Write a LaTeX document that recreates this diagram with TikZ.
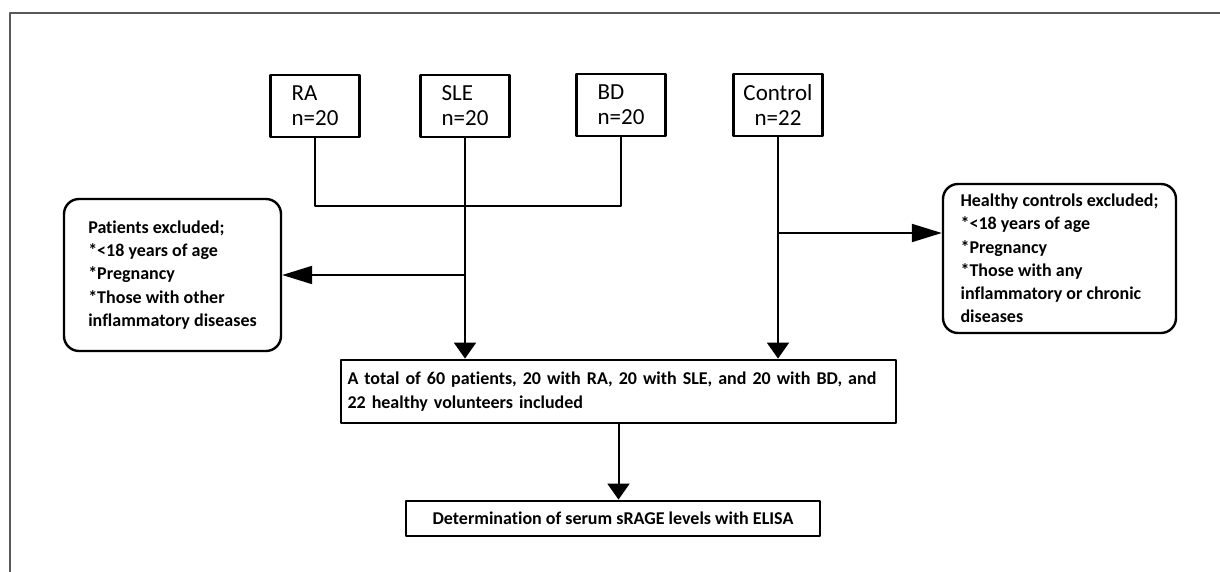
\documentclass[tikz,border=0pt]{standalone}
\usepackage{fontspec}
\setmainfont{Carlito}[Ligatures=NoCommon]
\usetikzlibrary{arrows.meta}
\tikzset{
  grpbox/.style={draw, line width=1.4pt, minimum width=44.5pt, minimum height=31pt, inner sep=0pt, font=\fontsize{11.5}{12.5}\selectfont},
  exclbox/.style={draw, line width=1.2pt, rounded corners=7.5pt, align=left, inner sep=0pt, font=\fontsize{9}{11.6}\selectfont\bfseries},
  mainbox/.style={draw, line width=1.4pt, align=left, inner sep=0pt, font=\fontsize{9}{11.6}\selectfont\bfseries},
  link/.style={line width=1pt},
  harrow/.style={line width=1pt, -{Triangle[length=15pt,width=9pt]}},
  varrow/.style={line width=1pt, -{Triangle[length=8pt,width=11pt]}},
}
\begin{document}
\begin{tikzpicture}[x=0.5pt, y=-0.5pt, line join=round]
	\useasboundingbox (0,0) rectangle (1220,572);
	\draw[gray!70!black, line width=1pt] (10,572) -- (10,13) -- (1220,13);
	% groups
	\node[grpbox, align=left] (ra) at (315,106) {RA\\n=20};
	\node[grpbox, align=left] (sle) at (465,106) {SLE\\n=20};
	\node[grpbox, align=left] (bd) at (621,105) {BD\\n=20};
	\node[grpbox, align=center] (ctrl) at (778,105) {Control\\n=22};
	% exclusions
	\node[exclbox, minimum width=108.5pt, minimum height=76pt] (pexcl) at (172.5,275)
		{Patients excluded;\\*<18 years of age\\*Pregnancy\\*Those with other\\inflammatory diseases};
	\node[exclbox, minimum width=116.5pt, minimum height=74.5pt] (hexcl) at (1059.5,258.5)
		{Healthy controls excluded;\\*<18 years of age\\*Pregnancy\\*Those with any\\inflammatory or chronic\\diseases};
	% included and assay
	\node[mainbox, minimum width=277.5pt, minimum height=31.5pt, text width=271pt] (total) at (618.5,391.5)
		{A total of 60 patients, 20 with RA, 20 with SLE, and 20 with BD, and\\22 healthy volunteers included};
	\node[mainbox, minimum width=207pt, minimum height=17.5pt] (elisa) at (613,518.5)
		{Determination of serum sRAGE levels with ELISA};
	% connectors
	\coordinate (bar) at (sle.south |- 0,206);
	\coordinate (hjoin) at (ctrl.south |- 0,233);
	\draw[link] (ra.south) |- (bar) -| (bd.south);
	\draw[varrow] (sle.south) -- (sle.south |- total.north);
	\draw[harrow] (sle.south |- pexcl.east) -- (pexcl.east);
	\draw[varrow] (ctrl.south) -- (ctrl.south |- total.north);
	\draw[harrow] (hjoin) -- (hexcl.west |- hjoin);
	\draw[varrow] (total.south) -- (total.south |- elisa.north);
\end{tikzpicture}
\end{document}
